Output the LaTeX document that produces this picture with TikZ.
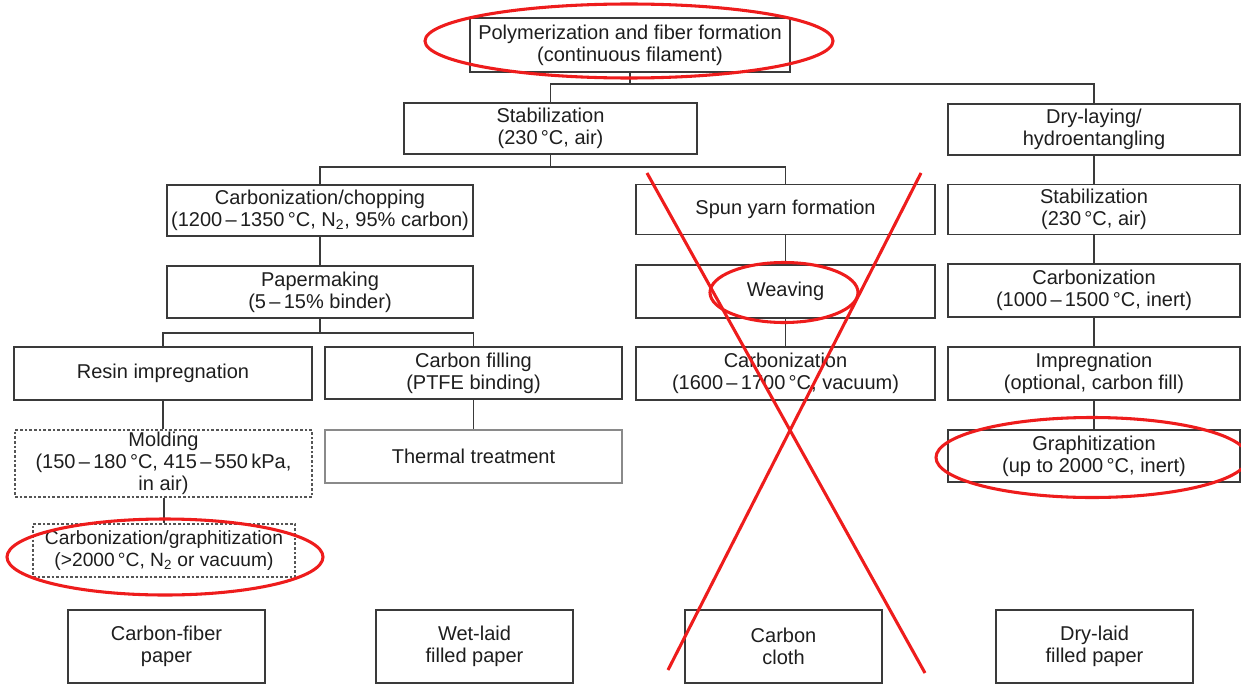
\documentclass[tikz,border=0pt]{standalone}
\usepackage{fontspec}
\setmainfont{Liberation Sans}
\definecolor{boxgray}{HTML}{3A3A3A}
\definecolor{lightgray2}{HTML}{8A8A8A}
\definecolor{dashgray}{HTML}{555555}
\definecolor{txt}{HTML}{1E1E1E}
\definecolor{annot}{HTML}{EE1C1C}
\tikzset{
  bx/.style 2 args={draw=boxgray, line width=0.9pt, align=center, inner sep=0pt,
    text=txt, font=\fontsize{15}{16.5}\selectfont,
    minimum width=#1*0.75pt, minimum height=#2*0.75pt},
  dbx/.style 2 args={bx={#1}{#2}, draw=dashgray, dashed, dash pattern=on 2pt off 1.5pt},
  lbx/.style 2 args={bx={#1}{#2}, draw=lightgray2},
  conn/.style={draw=boxgray, line width=0.8pt},
  redmark/.style={draw=annot, line width=2.3pt},
}
\begin{document}
\begin{tikzpicture}[x=0.75pt,y=-0.75pt]
\useasboundingbox (0,0) rectangle (1241,685);
\fill[white] (0,0) rectangle (1241,685);

\node[bx={320}{54}] (top) at (630,45) {Polymerization and fiber formation\\(continuous filament)};
\node[bx={293}{51}] (stab1) at (550.5,128.5) {Stabilization\\(230\,°C, air)};
\node[bx={292}{51}] (dry) at (1094,129.5) {Dry-laying/\\hydroentangling};
\node[bx={306}{51}] (chop) at (320,210.5) {Carbonization/chopping\\(1200\,–\,1350\,°C, N\textsubscript{2}, 95\% carbon)};
\node[bx={299}{50}] (spun) at (785.5,209.5) {Spun yarn formation};
\node[bx={292}{50}] (stab2) at (1094,209.5) {Stabilization\\(230\,°C, air)};
\node[bx={306}{52}] (paper) at (320,292) {Papermaking\\(5\,–\,15\% binder)};
\node[bx={299}{53}] (weave) at (785.5,291.5) {Weaving};
\node[bx={292}{53}] (carb2) at (1094,290.5) {Carbonization\\(1000\,–\,1500\,°C, inert)};
\node[bx={298}{53}] (resin) at (163,373.5) {Resin impregnation};
\node[bx={297}{52}] (fill) at (473.5,373) {Carbon filling\\(PTFE binding)};
\node[bx={299}{53}] (carb3) at (785.5,373.5) {Carbonization\\(1600\,–\,1700\,°C, vacuum)};
\node[bx={292}{53}] (impreg) at (1094,373.5) {Impregnation\\(optional, carbon fill)};
\node[dbx={297}{67}] (mold) at (163.5,463.5) {Molding\\(150\,–\,180\,°C, 415\,–\,550\,kPa,\\in air)};
\node[lbx={297}{53}] (therm) at (473.5,456.5) {Thermal treatment};
\node[bx={292}{52}] (graph) at (1094,456) {Graphitization\\(up to 2000\,°C, inert)};
\node[dbx={262}{53}, font=\fontsize{14.4}{16.5}\selectfont] (cg) at (164,550.5) {Carbonization/graphitization\\(>2000\,°C, N\textsubscript{2} or vacuum)};
\node[bx={197}{73}] (b1) at (166.5,646.5) {Carbon-fiber\\paper};
\node[bx={197}{73}] (b2) at (474.5,646.5) {Wet-laid\\filled paper};
\node[bx={197}{73}] (b3) at (783.5,646.5) {Carbon\\cloth};
\node[bx={197}{73}] (b4) at (1094.5,646.5) {Dry-laid\\filled paper};

\coordinate (j1) at (630,84);
\coordinate (j2) at (550.5,167);
\coordinate (j3) at (320,333);

\draw[conn] (top.south) -- (j1);
\draw[conn] (stab1.north) |- (j1) -| (dry.north);
\draw[conn] (stab1.south) -- (j2);
\draw[conn] (chop.north) |- (j2) -| (spun.north);
\draw[conn] (dry.south) -- (stab2.north);
\draw[conn] (chop.south) -- (paper.north);
\draw[conn] (spun.south) -- (weave.north);
\draw[conn] (stab2.south) -- (carb2.north);
\draw[conn] (paper.south) -- (j3);
\draw[conn] (resin.north) |- (j3) -| (fill.north);
\draw[conn] (weave.south) -- (carb3.north);
\draw[conn] (carb2.south) -- (impreg.north);
\draw[conn] (resin.south) -- (resin.south |- mold.north);
\draw[conn] (fill.south) -- (therm.north);
\draw[conn] (impreg.south) -- (graph.north);
\draw[conn] (cg.north |- mold.south) -- (cg.north);

% red annotations
\draw[redmark] (629,41) ellipse [x radius=204, y radius=37];
\draw[redmark] (784,292.5) ellipse [x radius=74, y radius=30];
\draw[redmark] (165,557) ellipse [x radius=158, y radius=38];
\draw[redmark] (1092,457.5) ellipse [x radius=156, y radius=40];
\draw[redmark] (647,173) -- (925,673);
\draw[redmark] (921,173) -- (668,670);
\end{tikzpicture}
\end{document}
